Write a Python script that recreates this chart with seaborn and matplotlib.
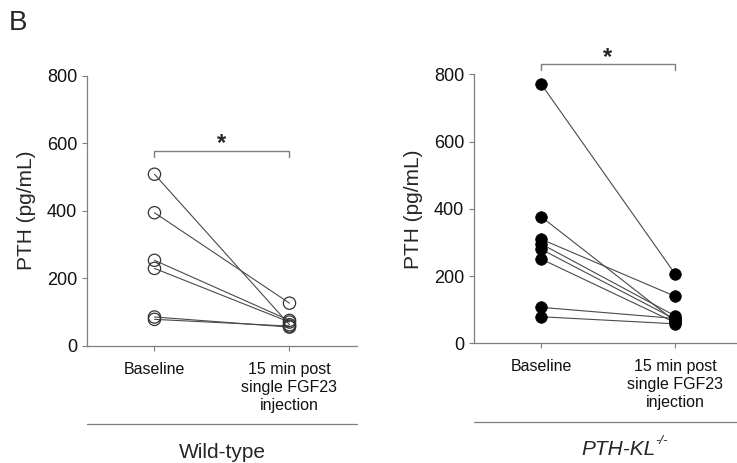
"""Панель B: PTH до и через 15 мин после однократной инъекции FGF23"""
import numpy as np
import pandas as pd
import matplotlib
matplotlib.use('Agg')
import matplotlib.pyplot as plt
import seaborn as sns

sns.set_style('white')
plt.rcParams['font.family'] = ['Liberation Sans', 'DejaVu Sans']

# Данные, pg/mL
conditions = ['Baseline', '15 min post\nsingle FGF23\ninjection']
wt_baseline = [508, 394, 253, 229, 85, 78]
wt_post = [62, 126, 75, 70, 55, 58]
ko_baseline = [772, 377, 310, 296, 280, 251, 107, 79]
ko_post = [207, 66, 140, 82, 72, 62, 74, 58]
group_names = ['Wild-type', 'PTH-KL']
bracket_y = [578, 830]

def long_form(base, post):
    n = len(base)
    return pd.DataFrame({
        'subject': list(range(n)) * 2,
        'time': [0] * n + [1] * n,
        'PTH': list(base) + list(post),
    })

groups = [long_form(wt_baseline, wt_post), long_form(ko_baseline, ko_post)]

fig = plt.figure(figsize=(7.37, 4.63), dpi=100)
axes = [fig.add_axes([0.118, 0.2534, 0.3664, 0.5831]),
        fig.add_axes([0.6431, 0.2585, 0.3636, 0.581])]

spine_col = '#7f7f7f'
line_col = '#4a4a4a'

for i, (ax, df) in enumerate(zip(axes, groups)):
    sns.lineplot(data=df, x='time', y='PTH', units='subject', estimator=None,
                 color=line_col, linewidth=0.8, ax=ax, legend=False)
    if i == 0:
        sns.scatterplot(data=df, x='time', y='PTH', s=78, facecolor='none',
                        edgecolor='#333333', linewidth=0.9, ax=ax, zorder=3)
    else:
        sns.scatterplot(data=df, x='time', y='PTH', s=70, color='black',
                        edgecolor='black', linewidth=0.5, ax=ax, zorder=3)

    ax.set_xlim(-0.5, 1.5)
    ax.set_ylim(0, 800)
    ax.set_yticks([0, 200, 400, 600, 800])
    ax.set_xticks([0, 1])
    ax.set_xticklabels(conditions, fontsize=11.5, linespacing=1.25)
    ax.tick_params(axis='y', labelsize=13)
    ax.tick_params(direction='out', length=3.5, width=0.8, color=spine_col,
                   left=True, bottom=True, labelcolor='#111111')
    ax.tick_params(axis='x', pad=8)
    ax.set_xlabel('')
    ax.set_ylabel('PTH (pg/mL)', fontsize=15, labelpad=8)
    sns.despine(ax=ax)
    for side in ['left', 'bottom']:
        ax.spines[side].set_color(spine_col)
        ax.spines[side].set_linewidth(0.9)

    # скобка значимости
    by = bracket_y[i]
    tick = 18
    ax.plot([0, 0, 1, 1], [by - tick, by, by, by - tick], color=spine_col,
            linewidth=1.0, clip_on=False)
    ax.text(0.5, by + 2, '*', ha='center', va='baseline', fontsize=17,
            fontweight='bold', clip_on=False)

    # линия группы
    ax.plot([0, 1], [-0.291, -0.291], transform=ax.transAxes, color=spine_col,
            linewidth=0.9, clip_on=False)

axes[0].text(0.5, -0.395, group_names[0], transform=axes[0].transAxes,
             ha='center', va='center', fontsize=15)
t_ko = axes[1].text(0.54, -0.395, group_names[1], transform=axes[1].transAxes,
                    ha='center', va='center', fontsize=15, style='italic')
axes[1].annotate('-/-', xy=(1.0, 0.62), xycoords=t_ko, ha='left', va='bottom',
                 fontsize=9.5, style='italic')

fig.text(9 / 737, 1 - 30 / 463, 'B', fontsize=20, va='baseline', ha='left')

fig.savefig('out.png', dpi=100)
